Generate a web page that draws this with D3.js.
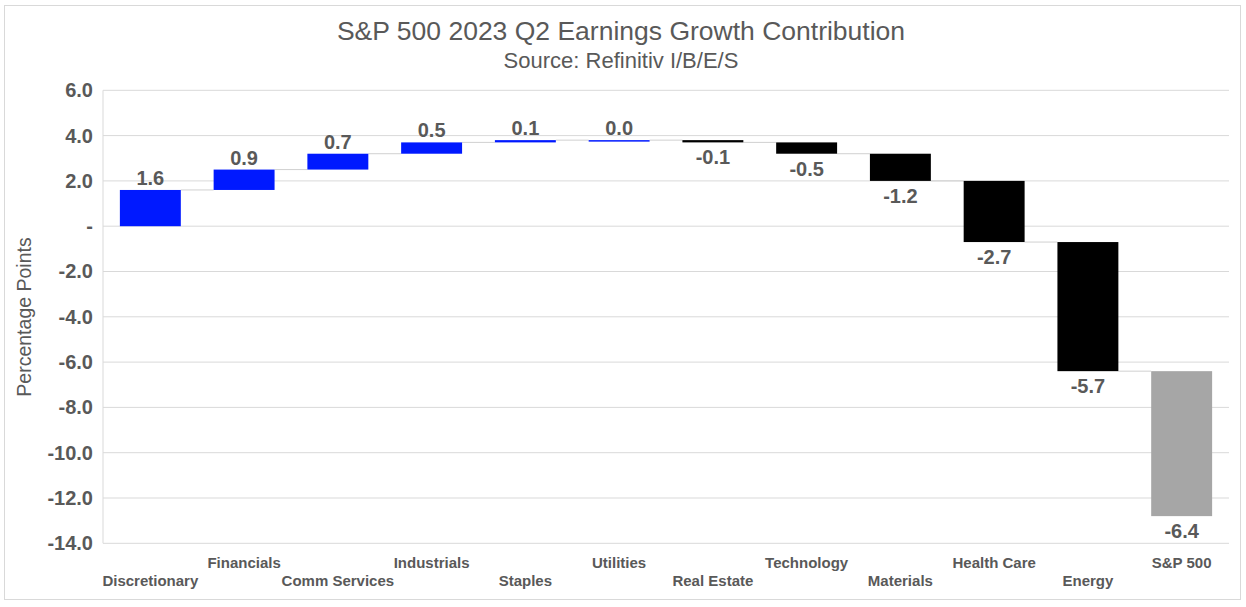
<!DOCTYPE html>
<html>
<head>
<meta charset="utf-8">
<script src="https://cdn.jsdelivr.net/npm/d3@7"></script>
<style>
  body { margin: 0; background: #fff; }
  svg { font-family: "Liberation Sans", Arial, sans-serif; }
</style>
</head>
<body>
<svg id="chart" width="1246" height="607"></svg>
<script>
// waterfall data
var sectors = ["Discretionary", "Financials", "Comm Services", "Industrials", "Staples", "Utilities",
               "Real Estate", "Technology", "Materials", "Health Care", "Energy", "S&P 500"];
var contributions = [1.6, 0.9, 0.7, 0.5, 0.1, 0.0, -0.1, -0.5, -1.2, -2.7, -5.7];
var totalValue = -6.4;
var yTicks = [6, 4, 2, 0, -2, -4, -6, -8, -10, -12, -14];

var svg = d3.select("#chart");
var W = 1246, H = 607;
var plotLeft = 103, plotRight = 1229, plotTop = 90.3, plotBottom = 543.3;
var grey = "#595959";
// plain hyphen for negatives, like the original
var fmt = d3.formatLocale({decimal: ".", thousands: ",", grouping: [3], currency: ["", ""], minus: "-"}).format(".1f");

// outer frame
svg.append("rect").attr("x", 4.5).attr("y", 5.5).attr("width", W - 10).attr("height", H - 13)
    .attr("fill", "#fff").attr("stroke", "#d9d9d9").attr("stroke-width", 1);

var x = d3.scaleBand().domain(sectors).range([plotLeft, plotRight]).paddingInner(0.35).paddingOuter(0.18);
var y = d3.scaleLinear().domain([-14, 6]).range([plotBottom, plotTop]);

// gridlines
svg.append("g").selectAll("line").data(yTicks).enter().append("line")
    .attr("x1", plotLeft).attr("x2", plotRight)
    .attr("y1", function(d){ return y(d) }).attr("y2", function(d){ return y(d) })
    .attr("stroke", "#d9d9d9").attr("stroke-width", 1);
svg.append("line").attr("x1", plotLeft).attr("x2", plotLeft).attr("y1", plotTop).attr("y2", plotBottom)
    .attr("stroke", "#d9d9d9");

// y axis labels
var yAxis = d3.axisLeft(y).tickValues(yTicks).tickSize(0).tickPadding(10)
    .tickFormat(function(d){ return d === 0 ? "-" : fmt(d) });
var ya = svg.append("g").attr("transform", "translate(" + plotLeft + ",0)").call(yAxis);
ya.select(".domain").remove();
ya.selectAll("text").attr("font-size", 20).attr("font-weight", "bold").attr("fill", grey)
    .attr("font-family", "Liberation Sans, Arial, sans-serif");

// build the steps
var steps = [], run = 0;
contributions.forEach(function(v, i){
    steps.push({name: sectors[i], start: run, end: run + v, value: v, kind: v >= 0 ? "up" : "down"});
    run += v;
});
// total bar stacked on the running total, like the spreadsheet did
steps.push({name: sectors[sectors.length - 1], start: totalValue, end: totalValue + totalValue, value: totalValue, kind: "total"});

var colors = {up: "#0019ff", down: "#000000", total: "#a6a6a6"};

// connectors
svg.append("g").selectAll("line").data(steps.slice(0, steps.length - 1)).enter().append("line")
    .attr("x1", function(d){ return x(d.name) + x.bandwidth() })
    .attr("x2", function(d, i){ return x(sectors[i + 1]) })
    .attr("y1", function(d){ return y(d.end) }).attr("y2", function(d){ return y(d.end) })
    .attr("stroke", "#d0d0d0").attr("stroke-width", 1);

// bars
svg.append("g").selectAll("rect").data(steps).enter().append("rect")
    .attr("x", function(d){ return x(d.name) })
    .attr("width", x.bandwidth())
    .attr("y", function(d){ return y(Math.max(d.start, d.end)) })
    .attr("height", function(d){ return Math.max(1.5, Math.abs(y(d.start) - y(d.end))) })
    .attr("fill", function(d){ return colors[d.kind] });

// value labels
svg.append("g").selectAll("text").data(steps).enter().append("text")
    .attr("x", function(d){ return x(d.name) + x.bandwidth() / 2 })
    .attr("y", function(d){
        return d.kind === "up" ? y(Math.max(d.start, d.end)) - 5 : y(Math.min(d.start, d.end)) + 22;
    })
    .attr("text-anchor", "middle").attr("font-size", 20).attr("font-weight", "bold").attr("fill", grey)
    .text(function(d){ return fmt(d.value) });

// category labels, staggered in two rows
svg.append("g").selectAll("text").data(sectors).enter().append("text")
    .attr("x", function(d){ return x(d) + x.bandwidth() / 2 })
    .attr("y", function(d, i){ return i % 2 === 1 ? 568 : 586 })
    .attr("text-anchor", "middle").attr("font-size", 15).attr("font-weight", "bold").attr("fill", grey)
    .text(function(d){ return d });

// y title
svg.append("text").attr("transform", "translate(31,317) rotate(-90)")
    .attr("text-anchor", "middle").attr("font-size", 19.5).attr("fill", grey)
    .text("Percentage Points");

// titles
svg.append("text").attr("x", 621).attr("y", 40).attr("text-anchor", "middle")
    .attr("font-size", 26.5).attr("fill", grey).text("S&P 500 2023 Q2 Earnings Growth Contribution");
svg.append("text").attr("x", 621).attr("y", 68).attr("text-anchor", "middle")
    .attr("font-size", 22).attr("fill", grey).text("Source: Refinitiv I/B/E/S");
</script>
</body>
</html>
